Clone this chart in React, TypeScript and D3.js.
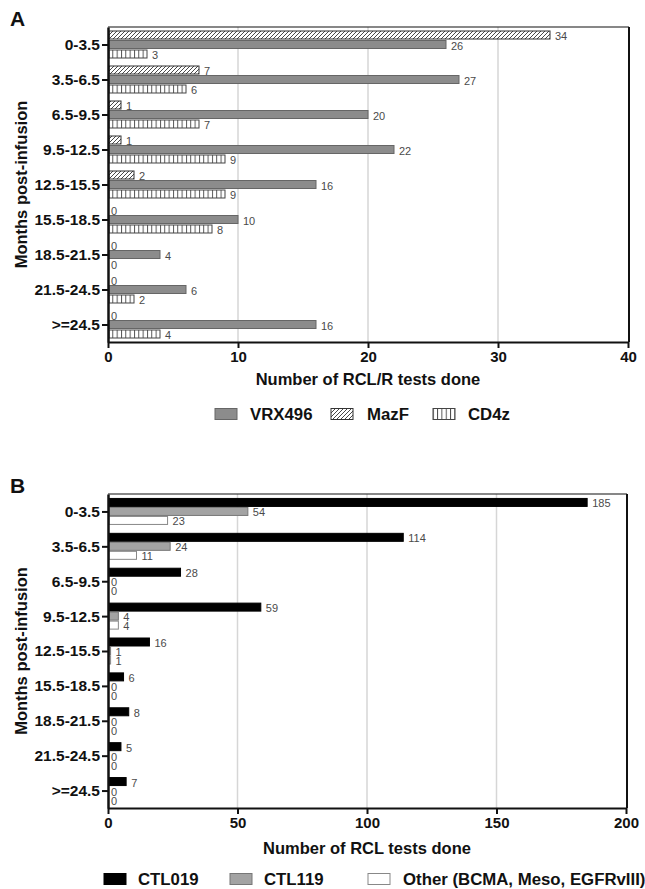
import React, { useEffect, useRef } from 'react';
import * as d3 from 'd3';

const categories = ['0-3.5', '3.5-6.5', '6.5-9.5', '9.5-12.5', '12.5-15.5', '15.5-18.5', '18.5-21.5', '21.5-24.5', '>=24.5'];
const vrx496 = [26, 27, 20, 22, 16, 10, 4, 6, 16];
const mazF = [34, 7, 1, 1, 2, 0, 0, 0, 0];
const cd4z = [3, 6, 7, 9, 9, 8, 0, 2, 4];
const ctl019 = [185, 114, 28, 59, 16, 6, 8, 5, 7];
const ctl119 = [54, 24, 0, 4, 1, 0, 0, 0, 0];
const other = [23, 11, 0, 4, 1, 0, 0, 0, 0];
const ticksA = [0, 10, 20, 30, 40];
const ticksB = [0, 50, 100, 150, 200];

const FONT = '"Liberation Sans", Arial, Helvetica, sans-serif';

type Series = { name: string; values: number[]; fill: string; stroke: string };

export default function App() {
  const ref = useRef<SVGSVGElement | null>(null);

  useEffect(() => {
    const svg = d3.select(ref.current);
    svg.selectAll('*').remove();

    const defs = svg.append('defs');
    const hatch = defs.append('pattern').attr('id', 'hatch').attr('patternUnits', 'userSpaceOnUse')
      .attr('width', 4).attr('height', 4);
    hatch.append('rect').attr('width', 4).attr('height', 4).attr('fill', '#fff');
    hatch.append('path').attr('d', 'M-1,1 L1,-1 M0,4 L4,0 M3,5 L5,3').attr('stroke', '#333').attr('stroke-width', 0.9);
    const vert = defs.append('pattern').attr('id', 'vert').attr('patternUnits', 'userSpaceOnUse')
      .attr('width', 4.33).attr('height', 10).attr('x', 108);
    vert.append('rect').attr('width', 4.33).attr('height', 10).attr('fill', '#fff');
    vert.append('line').attr('x1', 0.5).attr('x2', 0.5).attr('y1', 0).attr('y2', 10).attr('stroke', '#444').attr('stroke-width', 0.9);

    function panel(opts: {
      letter: string; top: number; bottom: number; left: number; right: number;
      xMax: number; ticks: number[]; barSeries: Series[]; legendSeries: Series[];
      title: string; titleY: number; legendY: number; legendX: number[]; legendTextX: number[];
      barStep: number;
    }) {
      const g = svg.append('g');
      const x = d3.scaleLinear().domain([0, opts.xMax]).range([opts.left, opts.right]);
      const y = d3.scalePoint<string>().domain(categories).range([opts.top, opts.bottom]).padding(0.5);
      const names = opts.barSeries.map(s => s.name);
      const inner = d3.scalePoint<string>().domain(names).range([-opts.barStep, opts.barStep]);
      const bh = 8;

      // gridlines
      g.selectAll('line.grid').data(opts.ticks.slice(1, -1)).join('line')
        .attr('x1', d => x(d)).attr('x2', d => x(d))
        .attr('y1', opts.top).attr('y2', opts.bottom)
        .attr('stroke', '#d6d6d6').attr('stroke-width', 1.5);

      // frame
      g.append('line').attr('x1', opts.left).attr('x2', opts.right + 1).attr('y1', opts.top).attr('y2', opts.top)
        .attr('stroke', '#111').attr('stroke-width', 1.2);
      g.append('line').attr('x1', opts.right + 1).attr('x2', opts.right + 1).attr('y1', opts.top).attr('y2', opts.bottom)
        .attr('stroke', '#111').attr('stroke-width', 2);

      // bars
      opts.barSeries.forEach(s => {
        const off = inner(s.name) as number;
        g.append('g').selectAll('rect').data(s.values.map((v, i) => ({ v, c: categories[i] })).filter(d => d.v > 0))
          .join('rect')
          .attr('x', x(0) + 1)
          .attr('y', d => (y(d.c) as number) + off - bh / 2)
          .attr('width', d => x(d.v) - x(0) - 1)
          .attr('height', bh)
          .attr('fill', s.fill)
          .attr('stroke', s.stroke)
          .attr('stroke-width', 1);
        g.append('g').selectAll('text').data(s.values.map((v, i) => ({ v, c: categories[i] })))
          .join('text')
          .attr('x', d => x(d.v) + (d.v > 0 ? 5 : 3))
          .attr('y', d => (y(d.c) as number) + off + 1)
          .attr('dominant-baseline', 'central')
          .attr('font-family', FONT).attr('font-size', 11).attr('fill', '#4a4a4a')
          .text(d => String(d.v));
      });

      // axes
      const ax = g.append('g').attr('transform', `translate(0,${opts.bottom})`)
        .call(d3.axisBottom(x).tickValues(opts.ticks).tickSize(6).tickSizeOuter(0).tickPadding(3));
      ax.select('.domain').attr('stroke', '#111').attr('stroke-width', 2);
      ax.selectAll('.tick line').attr('stroke', '#111').attr('stroke-width', 2);
      ax.selectAll('.tick text').attr('font-family', FONT).attr('font-weight', 'bold').attr('font-size', 15).attr('fill', '#111');

      const ay = g.append('g').attr('transform', `translate(${opts.left},0)`)
        .call(d3.axisLeft(y).tickSize(6).tickSizeOuter(0).tickPadding(2));
      ay.select('.domain').attr('stroke', '#111').attr('stroke-width', 2.5);
      ay.selectAll('.tick line').attr('stroke', '#111').attr('stroke-width', 2);
      ay.selectAll('.tick text').attr('font-family', FONT).attr('font-weight', 'bold').attr('font-size', 15.5).attr('fill', '#111');

      // y title
      const cy = (opts.top + opts.bottom) / 2;
      g.append('text').attr('transform', `translate(21,${cy}) rotate(-90)`)
        .attr('text-anchor', 'middle').attr('dominant-baseline', 'central')
        .attr('font-family', FONT).attr('font-weight', 'bold').attr('font-size', 16.5).attr('fill', '#111')
        .text('Months post-infusion');

      // x title
      g.append('text').attr('x', (opts.left + opts.right) / 2).attr('y', opts.titleY)
        .attr('text-anchor', 'middle')
        .attr('font-family', FONT).attr('font-weight', 'bold').attr('font-size', 16.5).attr('fill', '#111')
        .text(opts.title);

      // letter
      g.append('text').attr('x', 10).attr('y', opts.top - 1)
        .attr('font-family', FONT).attr('font-weight', 'bold').attr('font-size', 21).attr('fill', '#111')
        .text(opts.letter);

      // legend
      opts.legendSeries.forEach((s, i) => {
        g.append('rect').attr('x', opts.legendX[i]).attr('y', opts.legendY - 5.5).attr('width', 22).attr('height', 11)
          .attr('fill', s.fill).attr('stroke', s.stroke).attr('stroke-width', 1);
        g.append('text').attr('x', opts.legendTextX[i]).attr('y', opts.legendY)
          .attr('dominant-baseline', 'central')
          .attr('font-family', FONT).attr('font-weight', 'bold').attr('font-size', 16.8).attr('fill', '#111')
          .text(s.name);
      });
    }

    const sVRX: Series = { name: 'VRX496', values: vrx496, fill: '#8c8c8c', stroke: '#666' };
    const sMaz: Series = { name: 'MazF', values: mazF, fill: 'url(#hatch)', stroke: '#333' };
    const sCD4: Series = { name: 'CD4z', values: cd4z, fill: 'url(#vert)', stroke: '#444' };

    panel({
      letter: 'A', top: 27, bottom: 342, left: 108, right: 628, xMax: 40, ticks: ticksA,
      barSeries: [sMaz, sVRX, sCD4], legendSeries: [sVRX, sMaz, sCD4],
      title: 'Number of RCL/R tests done', titleY: 385, legendY: 414,
      legendX: [215, 331, 433], legendTextX: [250, 367, 468], barStep: 9.5,
    });

    const s019: Series = { name: 'CTL019', values: ctl019, fill: '#000', stroke: '#000' };
    const s119: Series = { name: 'CTL119', values: ctl119, fill: '#a3a3a3', stroke: '#777' };
    const sOth: Series = { name: 'Other (BCMA, Meso, EGFRvIII)', values: other, fill: '#fff', stroke: '#888' };

    panel({
      letter: 'B', top: 494, bottom: 808, left: 108, right: 626, xMax: 200, ticks: ticksB,
      barSeries: [s019, s119, sOth], legendSeries: [s019, s119, sOth],
      title: 'Number of RCL tests done', titleY: 854, legendY: 879,
      legendX: [104, 230, 368], legendTextX: [138, 264, 403], barStep: 9,
    });
  }, []);

  return (
    <svg ref={ref} width={645} height={889}
      style={{ position: 'absolute', left: 0, top: 0, background: '#fff' }} />
  );
}
